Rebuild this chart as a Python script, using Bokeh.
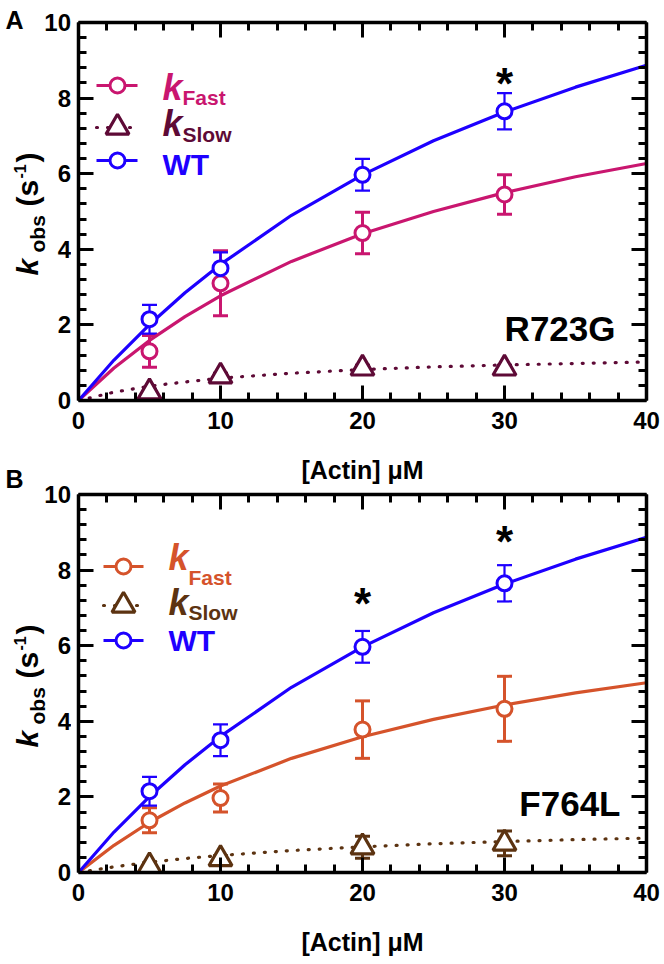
import numpy as np
from bokeh.plotting import figure
from bokeh.models import (ColumnDataSource, Whisker, TeeHead, Label, LinearAxis,
                          FixedTicker, Range1d)
from bokeh.layouts import column, row
from bokeh.embed import file_html
from bokeh.resources import INLINE

FONT = "Liberation Sans"

# ---------------- data ----------------
actin = [5, 10, 20, 30]

wt_kobs = [2.15, 3.50, 5.97, 7.65]
wt_sem = [0.38, 0.42, 0.42, 0.48]

r723g_fast = [1.30, 3.10, 4.43, 5.45]
r723g_fast_sem = [0.42, 0.86, 0.55, 0.52]
r723g_slow = [0.22, 0.64, 0.85, 0.85]
r723g_slow_sem = [0.08, 0.08, 0.08, 0.08]

f764l_fast = [1.38, 1.97, 3.78, 4.33]
f764l_fast_sem = [0.33, 0.37, 0.76, 0.86]
f764l_slow = [0.17, 0.36, 0.67, 0.77]
f764l_slow_sem = [0.08, 0.08, 0.29, 0.33]

# fitted hyperbolic curves
fit_actin = [0, 2.5, 5, 7.5, 10, 15, 20, 25, 30, 35, 40]
wt_fit = [0, 1.07, 2.01, 2.85, 3.60, 4.90, 5.97, 6.87, 7.63, 8.29, 8.87]
r723g_fast_fit = [0, 0.86, 1.59, 2.22, 2.77, 3.68, 4.41, 5.00, 5.50, 5.92, 6.27]
r723g_slow_fit = [0, 0.22, 0.38, 0.49, 0.59, 0.72, 0.82, 0.89, 0.94, 0.98, 1.02]
f764l_fast_fit = [0, 0.72, 1.33, 1.84, 2.29, 3.02, 3.59, 4.05, 4.43, 4.75, 5.02]
f764l_slow_fit = [0, 0.15, 0.27, 0.37, 0.45, 0.58, 0.68, 0.76, 0.82, 0.87, 0.91]

# significance marks (actin, k_obs position of the asterisk)
r723g_sig_x = [30]
r723g_sig_y = [8.55]
f764l_sig_x = [20, 30]
f764l_sig_y = [7.27, 8.91]

x_ticks = [0, 10, 20, 30, 40]
x_minor = [2, 4, 6, 8, 12, 14, 16, 18, 22, 24, 26, 28, 32, 34, 36, 38]
y_ticks = [0, 2, 4, 6, 8, 10]
y_minor = [0.4, 0.8, 1.2, 1.6, 2.4, 2.8, 3.2, 3.6, 4.4, 4.8, 5.2, 5.6,
           6.4, 6.8, 7.2, 7.6, 8.4, 8.8, 9.2, 9.6]

WT_COL = "#1E00FF"

LEFT_W = 71          # strip: panel letters, y-axis titles and y tick labels
MAIN_W = 664 - LEFT_W
BL, BR = 7, 18
FW, FH = MAIN_W - BL - BR, 378
FRAME_X0 = LEFT_W + BL
BASE_SHIFT = 0.28    # alphabetic-baseline correction, in em
Y_MAX = 10


def style_axis(ax, labels=True):
    ax.axis_line_width = 3.5
    ax.axis_line_color = "black"
    ax.major_tick_line_width = 3
    ax.minor_tick_line_width = 3
    ax.major_tick_in = 15
    ax.major_tick_out = 0
    ax.minor_tick_in = 8
    ax.minor_tick_out = 0
    ax.major_tick_line_color = "black"
    ax.minor_tick_line_color = "black"
    if labels:
        ax.major_label_text_font = FONT
        ax.major_label_text_font_size = "24px"
        ax.major_label_text_font_style = "bold"
        ax.major_label_text_color = "black"
    else:
        ax.major_label_standoff = 0
        ax.axis_label_standoff = 0
        ax.major_label_text_font_size = "2px"


def panel(height, btop, fast, fast_sem, slow, slow_sem, fast_fit, slow_fit,
          fast_col, slow_col, mutant, mut_pos, sig_x, sig_y, leg, oy):
    bb = height - btop - FH
    p = figure(width=MAIN_W, height=height, output_backend="svg", toolbar_location=None,
               x_range=Range1d(0, 40), y_range=Range1d(0, Y_MAX),
               min_border_left=BL, min_border_right=BR, min_border_top=btop,
               min_border_bottom=bb, background_fill_color="white",
               border_fill_color="white", outline_line_color=None)
    p.grid.visible = False
    xt = FixedTicker(ticks=x_ticks, minor_ticks=x_minor)
    yt = FixedTicker(ticks=y_ticks, minor_ticks=y_minor)
    p.xaxis.ticker = xt
    p.yaxis.ticker = yt
    for ax in p.xaxis:
        style_axis(ax)
        ax.major_label_standoff = 11
        ax.axis_label = "[Actin] \u03bcM"
        ax.axis_label_text_font = FONT
        ax.axis_label_text_font_size = "25px"
        ax.axis_label_text_font_style = "bold"
        ax.axis_label_text_color = "black"
        ax.axis_label_standoff = 24
    for ax in p.yaxis:
        # tick labels of this axis are drawn in the left strip
        style_axis(ax, labels=False)
        ax.major_label_overrides = {t: "" for t in y_ticks}
    top = LinearAxis(ticker=xt, major_label_overrides={t: "" for t in x_ticks})
    style_axis(top, labels=False)
    p.add_layout(top, "above")
    right = LinearAxis(ticker=yt, major_label_overrides={t: "" for t in y_ticks})
    style_axis(right, labels=False)
    p.add_layout(right, "right")

    ft = oy + btop
    fb = ft + FH

    def X(px):
        return (px - FRAME_X0) / FW * 40

    def Y(py):
        return (fb - py) / FH * Y_MAX

    # fitted curves
    p.line(fit_actin, fast_fit, line_color=fast_col, line_width=3.2)
    p.line(fit_actin, slow_fit, line_color=slow_col, line_width=3.2,
           line_dash="1 10", line_cap="round")
    p.line(fit_actin, wt_fit, line_color=WT_COL, line_width=3.2)

    def errbars(y, e, col, lw, size):
        src = ColumnDataSource(dict(x=actin, lo=[a - b for a, b in zip(y, e)],
                                    hi=[a + b for a, b in zip(y, e)]))
        w = Whisker(base="x", lower="lo", upper="hi", source=src, level="underlay",
                    line_color=col, line_width=lw,
                    upper_head=TeeHead(size=size, line_color=col, line_width=lw),
                    lower_head=TeeHead(size=size, line_color=col, line_width=lw))
        p.add_layout(w)

    errbars(fast, fast_sem, fast_col, 3, 15)
    errbars(slow, slow_sem, slow_col, 3, 15)
    errbars(wt_kobs, wt_sem, WT_COL, 2.2, 15)

    p.scatter(actin, fast, marker="circle", size=15, line_width=3,
              line_color=fast_col, fill_color="white")
    p.scatter(actin, slow, marker="triangle", size=23, line_width=3.2,
              line_color=slow_col, fill_color="white")
    p.scatter(actin, wt_kobs, marker="circle", size=15, line_width=3,
              line_color=WT_COL, fill_color="white")

    # significance
    for sx, sy in zip(sig_x, sig_y):
        p.add_layout(Label(x=sx, y=sy, text="*", text_font=FONT, text_font_size="44px",
                           text_font_style="bold", text_align="center",
                           text_baseline="middle", y_offset=-6, text_color="black"))

    # legend
    lx0, lx1, lmx, rows, tx, sx_, kb, sb, wtb = leg
    ry_f, ry_s, ry_w = rows
    p.line([X(lx0), X(lx1)], [Y(ry_f), Y(ry_f)], line_color=fast_col, line_width=3.2)
    p.scatter([X(lmx)], [Y(ry_f)], marker="circle", size=15, line_width=3,
              line_color=fast_col, fill_color="white")
    p.line([X(lx0), X(lx1)], [Y(ry_s), Y(ry_s)], line_color=slow_col, line_width=3.2,
           line_dash="1 10", line_cap="round")
    p.scatter([X(lmx)], [Y(ry_s)], marker="triangle", size=23, line_width=3.2,
              line_color=slow_col, fill_color="white")
    p.line([X(lx0), X(lx1)], [Y(ry_w), Y(ry_w)], line_color=WT_COL, line_width=3.2)
    p.scatter([X(lmx)], [Y(ry_w)], marker="circle", size=15, line_width=3,
              line_color=WT_COL, fill_color="white")

    def lab(px, py, text, size, col="black", style="bold", align="left"):
        p.add_layout(Label(x=X(px), y=Y(py), text=text, text_font=FONT,
                           text_font_size=f"{size}px", text_font_style=style,
                           text_color=col, text_align=align,
                           text_baseline="alphabetic",
                           y_offset=round(BASE_SHIFT * size)))

    lab(tx, kb[0], "k", 36, fast_col, "bold italic")
    lab(sx_, sb[0], "Fast", 21, fast_col)
    lab(tx, kb[1], "k", 36, slow_col, "bold italic")
    lab(sx_, sb[1], "Slow", 21, slow_col)
    lab(tx, wtb, "WT", 30, WT_COL)

    # mutant name
    lab(mut_pos[0], mut_pos[1], mutant, 35, align="right")
    return p


HA = 486
H = 964
HB = H - HA
TOP_A, TOP_B = 22, 8
pA = panel(HA, TOP_A, r723g_fast, r723g_fast_sem, r723g_slow, r723g_slow_sem,
           r723g_fast_fit, r723g_slow_fit, "#C9166F", "#5E0A36", "R723G", (615, 338),
           r723g_sig_x, r723g_sig_y,
           (96, 137, 117, (85, 127, 160), 162, 182, (97, 133), (103, 140), 172), 0)
pB = panel(HB, TOP_B, f764l_fast, f764l_fast_sem, f764l_slow, f764l_slow_sem,
           f764l_fast_fit, f764l_slow_fit, "#D5532B", "#5C3311", "F764L", (620, 813),
           f764l_sig_x, f764l_sig_y,
           (103, 143, 123, (566, 605, 640), 168, 188, (567, 612), (583, 618), 648), HA)

# left strip (coordinates = pixels from the top-left of the page)
strip = figure(width=LEFT_W, height=H, output_backend="svg", toolbar_location=None,
               x_range=Range1d(0, LEFT_W), y_range=Range1d(0, H),
               x_axis_location=None, y_axis_location=None,
               min_border=0, outline_line_color=None, background_fill_color="white",
               border_fill_color="white")
strip.grid.visible = False


def slab(px, py, text, size, style="bold", rotated=False, align="left",
         baseline="alphabetic"):
    sh = round(BASE_SHIFT * size) if baseline == "alphabetic" else 0
    if rotated:
        strip.add_layout(Label(x=px - sh, y=H - py, text=text, text_font=FONT,
                               text_font_size=f"{size}px", text_font_style=style,
                               text_color="black", text_align=align,
                               text_baseline=baseline, angle=np.pi / 2))
    else:
        strip.add_layout(Label(x=px, y=H - py + sh, text=text, text_font=FONT,
                               text_font_size=f"{size}px", text_font_style=style,
                               text_color="black", text_align=align,
                               text_baseline=baseline))


slab(5, 26, "A", 25)
slab(5, 485, "B", 25)
for ft in (TOP_A, HA + TOP_B):
    slab(35, ft + 253, "k", 30, "bold italic", True)
    slab(43, ft + 230, "obs", 21, "bold", True)
    slab(35, ft + 184, "(s", 30, "bold", True)
    slab(23, ft + 156, "-1", 16, "bold", True)
    slab(35, ft + 140, ")", 30, "bold", True)
    # y tick labels, placed through the panel's own y scale
    for t in y_ticks:
        slab(LEFT_W - 0.5, ft + FH - t / Y_MAX * FH, str(t), 24, align="right",
             baseline="middle")

layout = row(strip, column(pA, pB, spacing=0), spacing=0)
open("out.html", "w").write(file_html(layout, INLINE))
